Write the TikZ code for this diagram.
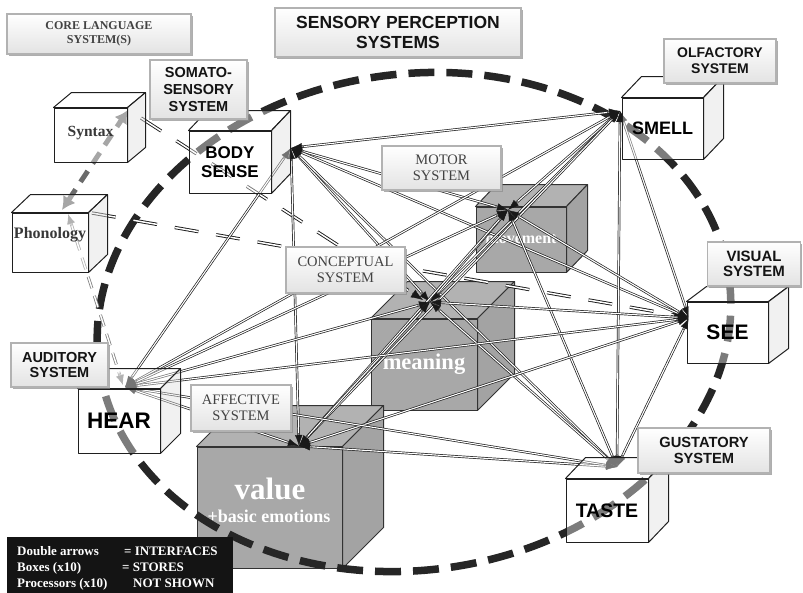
\documentclass[tikz,border=0pt]{standalone}
\usepackage{fontspec}
\setmainfont{Liberation Serif}
\newfontfamily\labelsans{Liberation Sans}
\usetikzlibrary{arrows.meta,shadows,calc}

\newcommand\tagsans[2]{\labelsans\bfseries\fontsize{#1}{#2}\selectfont}
\newcommand\tagserif[2]{\rmfamily\fontsize{#1}{#2}\selectfont}
% top and right faces of a box whose front face is node #1, depth (#2 right, #3 up)
\newcommand\boxfaces[5]{%
  \draw[#4] (#1.north west) -- ++(#2,-#3) -- ($(#1.north east)+(#2,-#3)$) -- (#1.north east) -- cycle;
  \draw[#5] (#1.north east) -- ++(#2,-#3) -- ($(#1.south east)+(#2,-#3)$) -- (#1.south east) -- cycle;}
% arrow head at end point #2 of a link coming from #1
\newcommand\linkhead[3]{\draw[#3] ($(#2)!13pt!(#1)$) -- (#2);}

\tikzset{
  edge/.style={line width=1pt, draw=black!88, line join=round},
  storetop/.style={edge, fill=white, fill opacity=0.4},
  storeside/.style={edge, fill=black!12, fill opacity=0.45},
  storefront/.style={edge, fill=white, fill opacity=0.4, text opacity=1, inner sep=0pt, align=center},
  coretop/.style={edge, draw=black!80, fill=black!30},
  coreside/.style={edge, draw=black!80, fill=black!36},
  corefront/.style={edge, draw=black!80, fill=black!34, inner sep=0pt, align=center, text=white},
  ring/.style={line width=7.5pt, draw=black!85, dash pattern=on 26pt off 12pt},
  iface/.style={draw=black!88, line width=0.7pt, double=white, double distance=1.1pt,
    shorten <=6pt, shorten >=6pt},
  ifacetip/.style={draw=black!90, line width=0.4pt, -{Latex[length=11pt,width=7.5pt]}},
  langlink/.style={draw=black!90, line width=0.9pt, double=white, double distance=1.5pt,
    dash pattern=on 24pt off 18pt, shorten >=8pt},
  langtip/.style={draw=black!90, line width=0.4pt, -{Latex[length=12pt,width=9pt]}},
  greylink/.style={draw=black!50, line width=0.8pt, double=white, double distance=1.4pt,
    dash pattern=on 12pt off 8pt, shorten <=6pt, shorten >=6pt},
  greytip/.style={draw=black!50, line width=0.4pt, -{Latex[length=10pt,width=8pt]}},
  greyarrow/.style={draw=black!58, line width=5pt, dash pattern=on 13pt off 9pt,
    {Latex[length=13pt,width=15pt]}-{Latex[length=13pt,width=15pt]}},
  tag/.style={draw=black!30, line width=1.3pt, top color=white, bottom color=black!11,
    drop shadow={shadow xshift=1.5pt, shadow yshift=-1.5pt, fill=black!45, opacity=0.7},
    inner sep=0pt, align=center},
  sanstag/.style={tag, text=black!92},
  seriftag/.style={tag, text=black!74},
  legendtext/.style={text=white, font=\tagserif{13}{14}\bfseries, inner sep=0pt, anchor=base west}
}

\begin{document}
\begin{tikzpicture}[x=1pt,y=-1pt]
\useasboundingbox (0,0) rectangle (803,592);

% ---- central stores
\node[corefront, minimum width=90, minimum height=65, font=\tagserif{16}{17}\bfseries] (movement) at (521,239.5) {movement};
\boxfaces{movement}{21}{22}{coretop}{coreside}
\node[corefront, minimum width=106, minimum height=91, font=\tagserif{22.5}{24}\bfseries] (meaning) at (424,364.5) {meaning};
\boxfaces{meaning}{37}{37}{coretop}{coreside}
\node[corefront, minimum width=145, minimum height=121] (value) at (269.5,507.5) {};
\boxfaces{value}{41}{41}{coretop}{coreside}
\node[font=\tagserif{31}{32}\bfseries, text=white, inner sep=0pt] (valuename) at (270,489) {value};
\node[font=\tagserif{18}{19}\bfseries, text=white, inner sep=0pt] (valuenote) at (269,516) {+basic emotions};

% ---- boundary of the sensory perception systems
\draw[ring, rotate around={8:(414,322)}] (414,322) ellipse [x radius=318, y radius=248];

% ---- interface end points
\coordinate (hB)  at (291,148);
\coordinate (hSm) at (620,111);
\coordinate (hMv) at (508,210);
\coordinate (hMn) at (430,302);
\coordinate (hSe) at (689,318);
\coordinate (hH)  at (125,387);
\coordinate (hV)  at (299,446);
\coordinate (hT)  at (617,467);
\coordinate (synout)  at (141,118);
\coordinate (synend)  at (423,300);
\coordinate (phonout) at (92,213);
\coordinate (phonend) at (686,317);
\coordinate (phonlow) at (68,214);
\coordinate (hearend) at (123,385);
\coordinate (phontop) at (62,210);
\coordinate (syncorner) at (128,110);

% ---- language interfaces
\draw[greyarrow] (phontop) -- (syncorner);
\draw[greylink] (phonlow) -- (hearend);
\linkhead{hearend}{phonlow}{greytip}
\linkhead{phonlow}{hearend}{greytip}
\draw[langlink] (synout) -- (synend);
\linkhead{synout}{synend}{langtip}
\draw[langlink] (phonout) -- (phonend);
\linkhead{phonout}{phonend}{langtip}

% ---- interfaces between the stores
\foreach \a/\b in {hB/hSm, hB/hMv, hB/hMn, hB/hSe, hB/hH, hB/hV, hB/hT,
  hSm/hMv, hSm/hMn, hSm/hSe, hSm/hH, hSm/hV, hSm/hT,
  hMv/hMn, hMv/hSe, hMv/hH, hMv/hV, hMv/hT,
  hMn/hSe, hMn/hH, hMn/hV, hMn/hT,
  hSe/hH, hSe/hV, hSe/hT, hH/hV, hH/hT, hV/hT}
  {\draw[iface] (\a) -- (\b);
   \linkhead{\a}{\b}{ifacetip}
   \linkhead{\b}{\a}{ifacetip}}

% ---- language and sensory stores
\node[storefront, minimum width=73, minimum height=54, font=\tagserif{15.5}{16}\bfseries, text=black!78] (syntax) at (90.5,135) {\raisebox{7pt}{Syntax}};
\boxfaces{syntax}{18}{15}{storetop}{storeside}
\node[storefront, minimum width=76, minimum height=59, font=\tagserif{16}{17}\bfseries, text=black!78] (phonology) at (50,242.5) {\raisebox{19pt}{Phonology}};
\boxfaces{phonology}{19}{18}{storetop}{storeside}
\node[storefront, minimum width=82, minimum height=62, font=\tagsans{17}{19}] (body) at (230,162) {BODY\\SENSE};
\boxfaces{body}{19}{20}{storetop}{storeside}
\node[storefront, minimum width=81, minimum height=61, font=\tagsans{18}{20}] (smell) at (662.5,128.5) {SMELL};
\boxfaces{smell}{20}{21}{storetop}{storeside}
\node[storefront, minimum width=81, minimum height=61, font=\tagsans{21}{23}] (see) at (727.5,332.5) {SEE};
\boxfaces{see}{20}{15}{storetop}{storeside}
\node[storefront, minimum width=82, minimum height=64, font=\tagsans{22.5}{24}] (hear) at (119,421) {\raisebox{-2pt}{HEAR}};
\boxfaces{hear}{20}{20}{storetop}{storeside}
\node[storefront, minimum width=82, minimum height=63, font=\tagsans{19.5}{21}] (taste) at (607,510.5) {TASTE};
\boxfaces{taste}{20}{21}{storetop}{storeside}

% ---- system labels
\node[seriftag, minimum width=184, minimum height=40, font=\tagserif{12}{14}\bfseries] (corelang) at (99,34) {CORE LANGUAGE\\SYSTEM(S)};
\node[sanstag, minimum width=246, minimum height=49, font=\tagsans{17.5}{20}] (sensory) at (398,32.5) {SENSORY PERCEPTION\\SYSTEMS};
\node[sanstag, minimum width=97, minimum height=59, font=\tagsans{14.5}{17}] (somato) at (198.5,89.5) {SOMATO-\\SENSORY\\SYSTEM};
\node[sanstag, minimum width=112, minimum height=44, font=\tagsans{14}{16}] (olfactory) at (720,61) {OLFACTORY\\SYSTEM};
\node[seriftag, minimum width=119, minimum height=44, font=\tagserif{14.5}{15.5}] (motor) at (441.5,168) {MOTOR\\SYSTEM};
\node[seriftag, minimum width=119, minimum height=46, font=\tagserif{14.5}{15.5}] (conceptual) at (345.5,270) {CONCEPTUAL\\SYSTEM};
\node[sanstag, minimum width=93, minimum height=44, font=\tagsans{15}{15.5}] (visual) at (754,264) {VISUAL\\SYSTEM};
\node[sanstag, minimum width=97, minimum height=44, font=\tagsans{14.5}{15.5}] (auditory) at (59.5,365) {AUDITORY\\SYSTEM};
\node[seriftag, minimum width=100, minimum height=46, font=\tagserif{14.5}{16}] (affective) at (241,408) {AFFECTIVE\\SYSTEM};
\node[sanstag, minimum width=132, minimum height=45, font=\tagsans{14.7}{16}] (gustatory) at (704,450.5) {GUSTATORY\\SYSTEM};

% ---- key
\node[fill=black!92, minimum width=226, minimum height=56, anchor=north west, inner sep=0pt] (legend) at (7,537) {};
\node[legendtext] (keya) at (17,555.5) {Double arrows};
\node[legendtext] (keyb) at (124,555.5) {= INTERFACES};
\node[legendtext] (keyc) at (17,571.5) {Boxes (x10)};
\node[legendtext] (keyd) at (122,571.5) {= STORES};
\node[legendtext] (keye) at (17,587) {Processors (x10)};
\node[legendtext] (keyf) at (133,587) {NOT SHOWN};
\end{tikzpicture}
\end{document}
